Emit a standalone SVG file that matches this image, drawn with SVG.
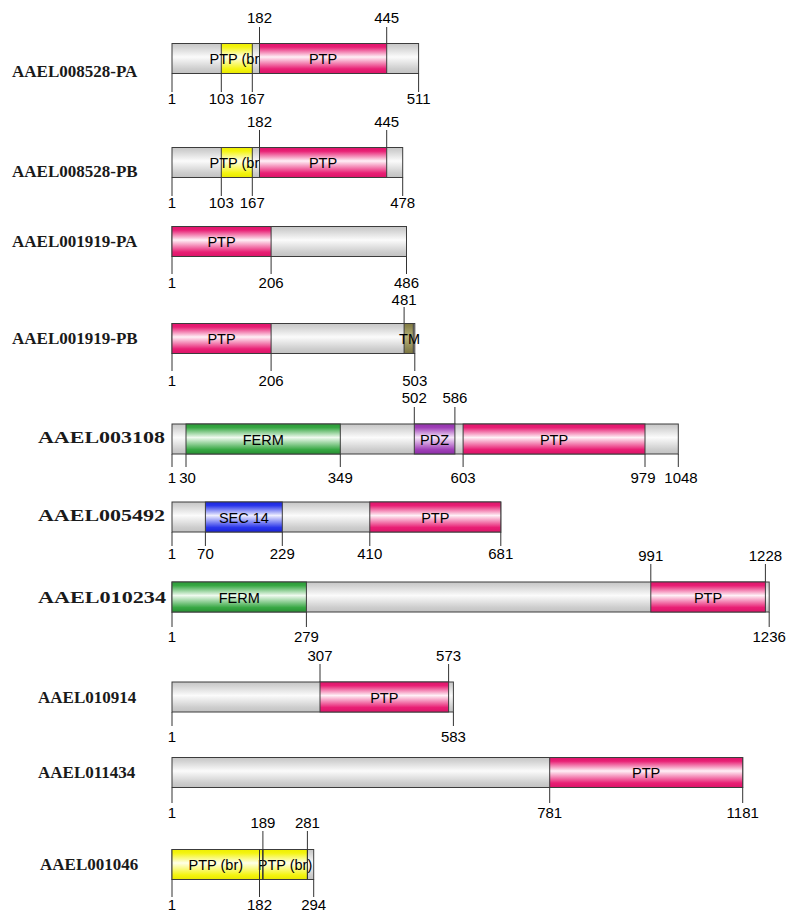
<svg xmlns="http://www.w3.org/2000/svg" width="794" height="921" viewBox="0 0 794 921">
<defs>
<linearGradient id="gGray" x1="0" y1="0" x2="0" y2="1"><stop offset="0" stop-color="#c6c6c6"/><stop offset="0.12" stop-color="#d2d2d2"/><stop offset="0.45" stop-color="#fbfbfb"/><stop offset="0.85" stop-color="#cdcdcd"/><stop offset="1" stop-color="#c2c2c2"/></linearGradient>
<linearGradient id="gPink" x1="0" y1="0" x2="0" y2="1"><stop offset="0" stop-color="#e0156c"/><stop offset="0.12" stop-color="#e81f74"/><stop offset="0.45" stop-color="#fff0f6"/><stop offset="0.85" stop-color="#e81f74"/><stop offset="1" stop-color="#dc1468"/></linearGradient>
<linearGradient id="gYel" x1="0" y1="0" x2="0" y2="1"><stop offset="0" stop-color="#eeee00"/><stop offset="0.12" stop-color="#f4f410"/><stop offset="0.45" stop-color="#ffffe8"/><stop offset="0.85" stop-color="#f4f410"/><stop offset="1" stop-color="#e8e800"/></linearGradient>
<linearGradient id="gGrn" x1="0" y1="0" x2="0" y2="1"><stop offset="0" stop-color="#2a9a36"/><stop offset="0.12" stop-color="#38a844"/><stop offset="0.45" stop-color="#effaef"/><stop offset="0.85" stop-color="#38a844"/><stop offset="1" stop-color="#268f32"/></linearGradient>
<linearGradient id="gBlu" x1="0" y1="0" x2="0" y2="1"><stop offset="0" stop-color="#1a26e0"/><stop offset="0.12" stop-color="#2a36ea"/><stop offset="0.45" stop-color="#eeeeff"/><stop offset="0.85" stop-color="#2a36ea"/><stop offset="1" stop-color="#1822d8"/></linearGradient>
<linearGradient id="gPur" x1="0" y1="0" x2="0" y2="1"><stop offset="0" stop-color="#9232ac"/><stop offset="0.12" stop-color="#a040b8"/><stop offset="0.45" stop-color="#f6e6fa"/><stop offset="0.85" stop-color="#a040b8"/><stop offset="1" stop-color="#8c2ea6"/></linearGradient>
<linearGradient id="gTM" x1="0" y1="0" x2="0" y2="1"><stop offset="0" stop-color="#7e7840"/><stop offset="0.45" stop-color="#b8b27a"/><stop offset="1" stop-color="#7a7440"/></linearGradient>
</defs>
<style>
.bar{fill:url(#gGray);stroke:#3c3c3c;stroke-width:1}
.pk{fill:url(#gPink);stroke:#3c3c3c;stroke-width:1}
.ye{fill:url(#gYel);stroke:#3c3c3c;stroke-width:1}
.gr{fill:url(#gGrn);stroke:#3c3c3c;stroke-width:1}
.bl{fill:url(#gBlu);stroke:#3c3c3c;stroke-width:1}
.pu{fill:url(#gPur);stroke:#3c3c3c;stroke-width:1}
.tm{fill:url(#gTM);stroke:#3c3c3c;stroke-width:1}
.tk{stroke:#333;stroke-width:1;fill:none}
.n{font-family:"Liberation Sans",Arial,sans-serif;font-size:15px;fill:#000;text-anchor:middle}
.d{font-family:"Liberation Sans",Arial,sans-serif;font-size:14.5px;fill:#000;text-anchor:middle}
.nm{font-family:"Liberation Serif","Times New Roman",serif;font-weight:bold;font-size:17px;fill:#1a1a1a}
</style>
<rect width="794" height="921" fill="#fff"/>

<g id="AAEL008528-PA">
<text class="nm" x="12" y="77">AAEL008528-PA</text>
<rect class="bar" x="172" y="43.5" width="246.6" height="30"/>
<rect class="ye" x="221.3" y="43.5" width="31" height="30"/>
<text class="d" x="236.8" y="64">PTP (br)</text>
<rect class="pk" x="259.5" y="43.5" width="127.2" height="30"/>
<text class="d" x="323" y="64">PTP</text>
<path class="tk" d="M259.5 27V43.5M386.7 27V43.5M172 73.5V92M221.3 73.5V92M252.3 73.5V92M418.6 73.5V92"/>
<text class="n" x="259.5" y="23">182</text><text class="n" x="386.7" y="23">445</text>
<text class="n" x="172" y="104">1</text><text class="n" x="221.3" y="104">103</text><text class="n" x="252.3" y="104">167</text><text class="n" x="418.6" y="104">511</text>
</g>

<g id="AAEL008528-PB">
<text class="nm" x="12" y="176.5">AAEL008528-PB</text>
<rect class="bar" x="172" y="147.5" width="230.7" height="30"/>
<rect class="ye" x="221.3" y="147.5" width="31" height="30"/>
<text class="d" x="236.8" y="168">PTP (br)</text>
<rect class="pk" x="259.5" y="147.5" width="127.2" height="30"/>
<text class="d" x="323" y="168">PTP</text>
<path class="tk" d="M259.5 130V147.5M386.7 130V147.5M172 177.5V196M221.3 177.5V196M252.3 177.5V196M402.7 177.5V196"/>
<text class="n" x="259.5" y="127">182</text><text class="n" x="386.7" y="127">445</text>
<text class="n" x="172" y="208">1</text><text class="n" x="221.3" y="208">103</text><text class="n" x="252.3" y="208">167</text><text class="n" x="402.7" y="208">478</text>
</g>

<g id="AAEL001919-PA">
<text class="nm" x="12" y="247">AAEL001919-PA</text>
<rect class="bar" x="172" y="226.5" width="234.5" height="30"/>
<rect class="pk" x="172" y="226.5" width="99.1" height="30"/>
<text class="d" x="221.5" y="247">PTP</text>
<path class="tk" d="M172 256.5V274M271.1 256.5V274M406.5 256.5V274"/>
<text class="n" x="172" y="287.5">1</text><text class="n" x="271.1" y="287.5">206</text><text class="n" x="406.5" y="287.5">486</text>
</g>

<g id="AAEL001919-PB">
<text class="nm" x="12" y="344">AAEL001919-PB</text>
<rect class="bar" x="172" y="323.5" width="242.8" height="30"/>
<rect class="pk" x="172" y="323.5" width="99.1" height="30"/>
<rect class="tm" x="404.1" y="323.5" width="9.2" height="30"/>
<text class="d" x="221.5" y="344">PTP</text>
<text class="d" x="409.5" y="344">TM</text>
<path class="tk" d="M404.1 307V323.5M172 353.5V371M271.1 353.5V371M414.8 353.5V371"/>
<text class="n" x="404.1" y="304.5">481</text>
<text class="n" x="172" y="386">1</text><text class="n" x="271.1" y="386">206</text><text class="n" x="414.8" y="386">503</text>
</g>

<g id="AAEL003108">
<text class="nm" x="38" y="443" textLength="127" lengthAdjust="spacingAndGlyphs">AAEL003108</text>
<rect class="bar" x="172" y="424" width="506.3" height="30"/>
<rect class="gr" x="186" y="424" width="154.3" height="30"/>
<rect class="pu" x="414.3" y="424" width="40.6" height="30"/>
<rect class="pk" x="463.1" y="424" width="181.9" height="30"/>
<text class="d" x="263.2" y="444.5">FERM</text>
<text class="d" x="434.6" y="444.5">PDZ</text>
<text class="d" x="554" y="444.5">PTP</text>
<path class="tk" d="M414.3 407V424M454.9 407V424M172 454V467M186 454V467M340.3 454V467M463.1 454V467M645 454V467M678.3 454V467"/>
<text class="n" x="414.3" y="403">502</text><text class="n" x="454.9" y="403">586</text>
<text class="n" x="172" y="483">1</text><text class="n" x="187.5" y="483">30</text><text class="n" x="340.3" y="483">349</text><text class="n" x="463.1" y="483">603</text><text class="n" x="643" y="483">979</text><text class="n" x="681" y="483">1048</text>
</g>

<g id="AAEL005492">
<text class="nm" x="38" y="521" textLength="127" lengthAdjust="spacingAndGlyphs">AAEL005492</text>
<rect class="bar" x="172" y="502" width="328.8" height="30"/>
<rect class="bl" x="205.4" y="502" width="76.9" height="30"/>
<rect class="pk" x="369.8" y="502" width="131" height="30"/>
<text class="d" x="243.9" y="522.5">SEC 14</text>
<text class="d" x="435.3" y="522.5">PTP</text>
<path class="tk" d="M172 532V546M205.4 532V546M282.3 532V546M369.8 532V546M500.8 532V546"/>
<text class="n" x="172" y="559">1</text><text class="n" x="205.4" y="559">70</text><text class="n" x="282.3" y="559">229</text><text class="n" x="369.8" y="559">410</text><text class="n" x="500.8" y="559">681</text>
</g>

<g id="AAEL010234">
<text class="nm" x="38" y="603" textLength="128" lengthAdjust="spacingAndGlyphs">AAEL010234</text>
<rect class="bar" x="172" y="582" width="597.2" height="30"/>
<rect class="gr" x="172" y="582" width="134.4" height="30"/>
<rect class="pk" x="650.8" y="582" width="114.6" height="30"/>
<text class="d" x="239.2" y="602.5">FERM</text>
<text class="d" x="708" y="602.5">PTP</text>
<path class="tk" d="M650.8 564V582M765.4 564V582M172 612V627M306.4 612V627M769.2 612V627"/>
<text class="n" x="650.8" y="561">991</text><text class="n" x="765.4" y="561">1228</text>
<text class="n" x="172" y="642">1</text><text class="n" x="306.4" y="642">279</text><text class="n" x="769.2" y="642">1236</text>
</g>

<g id="AAEL010914">
<text class="nm" x="38" y="703">AAEL010914</text>
<rect class="bar" x="172" y="682" width="281.4" height="30"/>
<rect class="pk" x="320" y="682" width="128.6" height="30"/>
<text class="d" x="384.3" y="702.5">PTP</text>
<path class="tk" d="M320 664V682M448.6 664V682M172 712V726M453.4 712V726"/>
<text class="n" x="320" y="661">307</text><text class="n" x="448.6" y="661">573</text>
<text class="n" x="172" y="742">1</text><text class="n" x="453.4" y="742">583</text>
</g>

<g id="AAEL011434">
<text class="nm" x="38" y="778">AAEL011434</text>
<rect class="bar" x="172" y="757.5" width="570.7" height="30"/>
<rect class="pk" x="549.7" y="757.5" width="193" height="30"/>
<text class="d" x="646.2" y="778">PTP</text>
<path class="tk" d="M172 787.5V803M549.7 787.5V803M742.7 787.5V803"/>
<text class="n" x="172" y="818">1</text><text class="n" x="549.7" y="818">781</text><text class="n" x="742.7" y="818">1181</text>
</g>

<g id="AAEL001046">
<text class="nm" x="40" y="870">AAEL001046</text>
<rect class="bar" x="172" y="849.5" width="141.7" height="30"/>
<rect class="ye" x="172" y="849.5" width="90.9" height="30"/>
<rect class="ye" x="262.9" y="849.5" width="44.5" height="30"/>
<text class="d" x="215.8" y="870">PTP (br)</text>
<text class="d" x="285" y="870">PTP (br)</text>
<path class="tk" d="M262.9 831V879.5M307.4 831V879.5M172 879.5V897M259.5 849.5V897M313.7 879.5V897"/>
<text class="n" x="262.9" y="828">189</text><text class="n" x="307.4" y="828">281</text>
<text class="n" x="172" y="910">1</text><text class="n" x="259.5" y="910">182</text><text class="n" x="313.7" y="910">294</text>
</g>
</svg>
